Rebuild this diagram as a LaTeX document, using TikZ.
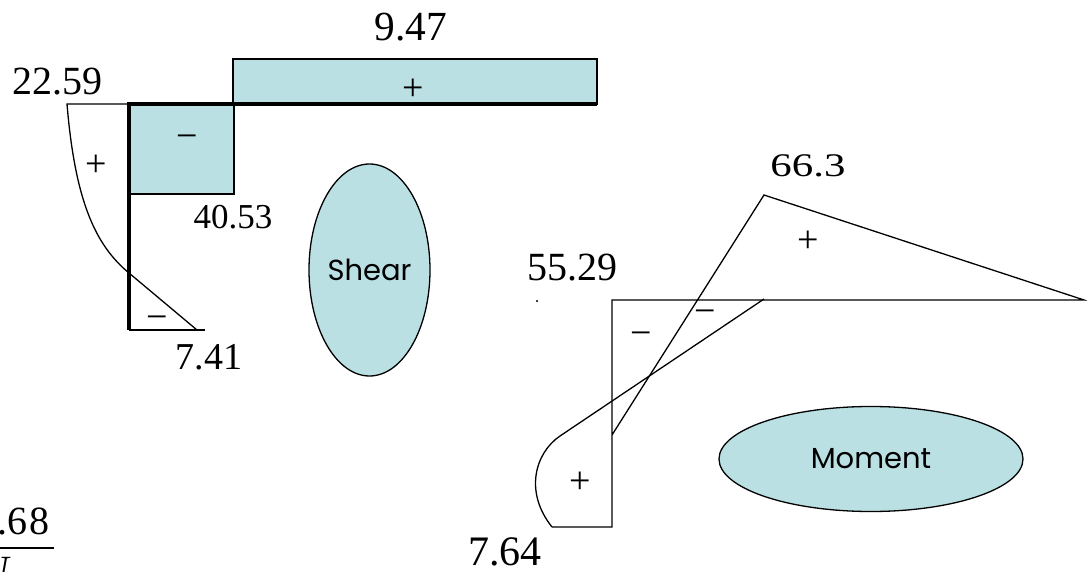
\documentclass[tikz,border=0pt]{standalone}
\usepackage{fontspec}
\setmainfont{Liberation Serif}
\newfontfamily\comicfont{Poppins}
\usetikzlibrary{shapes.geometric}
\definecolor{diagblue}{RGB}{186,224,227}

\begin{document}
\begin{tikzpicture}[x=.5pt,y=-.5pt,line width=.65pt,
  num/.style={inner sep=0pt,font=\fontsize{#1}{#1}\selectfont},
  sign/.style={inner sep=0pt,font=\fontsize{19}{19}\selectfont},
  oval/.style={ellipse,draw,fill=diagblue,inner sep=0pt,font=\comicfont\fontsize{14.5}{16}\selectfont},
  heavy/.style={line width=1.8pt}]
  \useasboundingbox (0,0) rectangle (1087,572);
  \clip (0,0) rectangle (1087,572);

  \draw[fill=diagblue] (233,59) rectangle (597,104);
  \draw[fill=diagblue] (129,104) rectangle (234,194);
  \draw[heavy] (129,330) -- (129,104) -- (597,104);
  \draw (205,330) -- (129,330);
  \draw (129,104) -- (67,104) .. controls (75,200) and (95,245) .. (129,273) -- (197,330);
  \node[num=20.7] (v947) at (411,27) {9.47};
  \node[num=20] (v2259) at (57,82) {22.59};
  \node[num=17.5] (v4053) at (233,217) {40.53};
  \node[num=19] (v741) at (209,357) {7.41};
  \node[sign] (sp1) at (413,90) {+};
  \node[sign] (sp2) at (96,166) {+};
  \node[sign] (sm1) at (187,142) {−};
  \node[sign] (sm2) at (157,323) {−};
  \node[oval,minimum width=60.5pt,minimum height=106pt] (shear) at (369.5,270) {Shear};

  \draw (552,527) -- (612,527) -- (612,300) -- (1084,300) -- (764,195) -- (612,435);
  \draw (764,299) -- (560,436) .. controls (535,453) and (524,492) .. (552,527);
  \fill (537,301) circle[radius=.6pt];
  \node[num=20] (v5529) at (572,268) {55.29};
  \node[num=16.5] (v663) at (808,166) {\scalebox{1.3}[1]{66.3}};
  \node[num=21] (v764) at (505,552) {7.64};
  \node[sign] (mp1) at (808,242) {+};
  \node[sign] (mp2) at (580,483) {+};
  \node[sign] (mm1) at (641,339) {−};
  \node[sign] (mm2) at (705,317) {−};
  \node[oval,minimum width=152pt,minimum height=52.5pt] (moment) at (871,459) {Moment};

  \node[num=20,anchor=west] (f68) at (-3,521) {.6\kern1pt 8};
  \draw (0,548) -- (54,548);
  \node[num=20] (fN) at (-4,570) {\itshape N};
\end{tikzpicture}
\end{document}
